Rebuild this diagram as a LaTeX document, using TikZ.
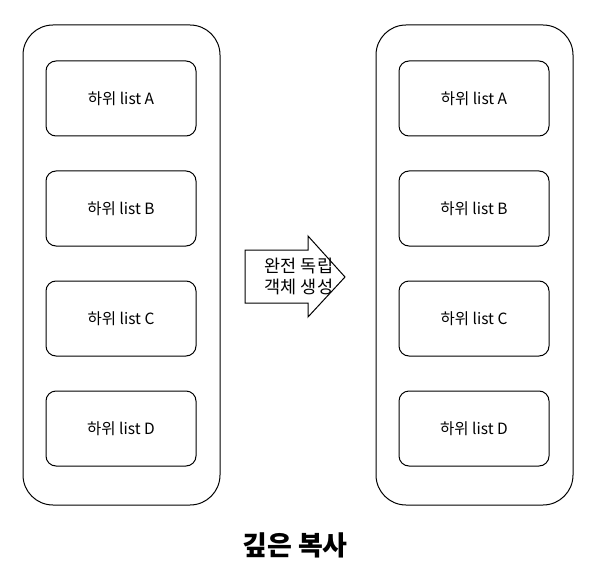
\documentclass[tikz,border=0pt]{standalone}
\usepackage{fontspec}
\setmainfont{Noto Sans CJK KR}
\usetikzlibrary{positioning}

\begin{document}
\begin{tikzpicture}[x=1pt, y=-1pt, node distance=34pt, line width=1pt]
        \tikzstyle{outer} = [rectangle, draw, rounded corners=30pt, minimum width=197pt, minimum height=480pt]
        \tikzstyle{sub} = [rectangle, draw, rounded corners=10pt, minimum width=150pt, minimum height=75pt, font=\fontsize{15.5}{18}\selectfont]
        \useasboundingbox (0,0) rectangle (601,569);

        % containers
        \node [outer] (left) at (121.5,265) {};
        \node [outer] (right) at (474.5,265) {};

        % left list
        \node [sub] (la) at (121,98.5) {하위 list A};
        \node [sub, below=of la] (lb) {하위 list B};
        \node [sub, below=of lb] (lc) {하위 list C};
        \node [sub, below=of lc] (ld) {하위 list D};

        % right list
        \node [sub] (ra) at (474,98.5) {하위 list A};
        \node [sub, below=of ra] (rb) {하위 list B};
        \node [sub, below=of rb] (rc) {하위 list C};
        \node [sub, below=of rc] (rd) {하위 list D};

        % copy arrow
        \draw (245,250) -- (308,250) -- (308,236) -- (345,277) -- (308,317) -- (308,303) -- (245,303) -- cycle;
        \node [align=center, font=\fontsize{17.5}{21}\selectfont] (copy) at (299,276.5) {완전 독립\\객체 생성};

        % caption
        \node [font=\fontsize{27}{30}\selectfont\bfseries] (title) at (295,545) {깊은 복사};
    \end{tikzpicture}
\end{document}
